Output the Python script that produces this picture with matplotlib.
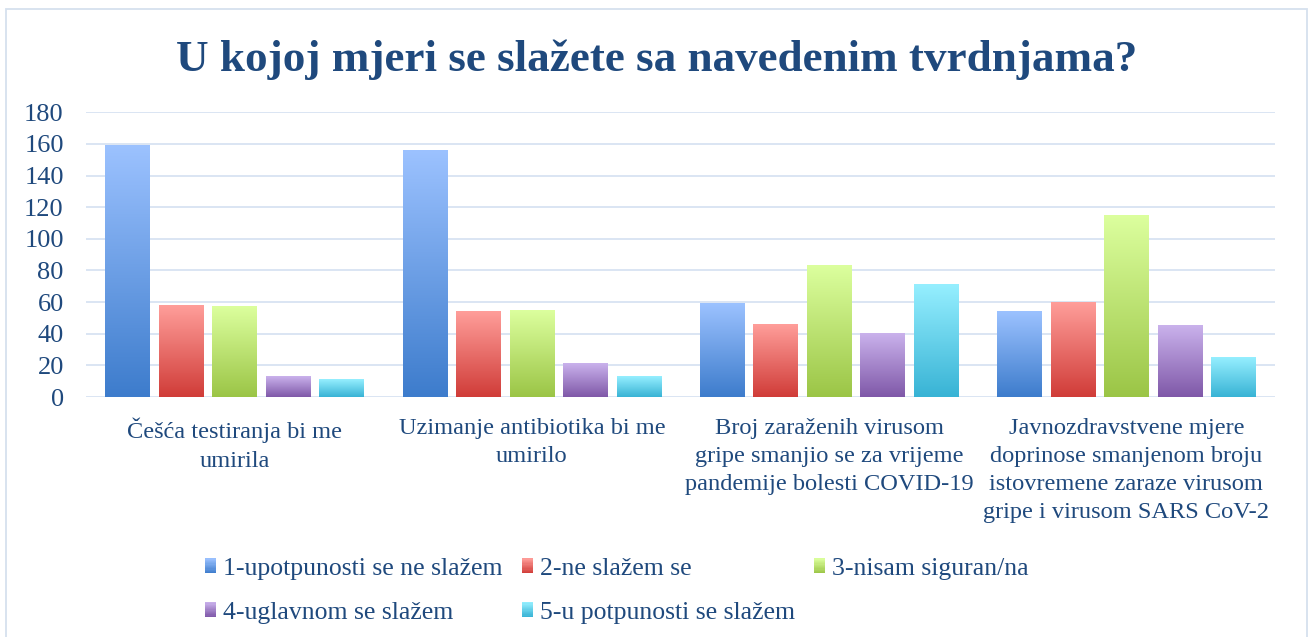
import numpy as np
import matplotlib
matplotlib.use("Agg")
import matplotlib.pyplot as plt
from matplotlib.colors import LinearSegmentedColormap, to_rgb
from matplotlib.legend_handler import HandlerBase
from matplotlib.patches import Rectangle

# ---------------- data ----------------
categories = [
    "Češća testiranja bi me\numirila",
    "Uzimanje antibiotika bi me\numirilo",
    "Broj zaraženih virusom\ngripe smanjio se za vrijeme\npandemije bolesti COVID-19",
    "Javnozdravstvene mjere\ndoprinose smanjenom broju\nistovremene zaraze virusom\ngripe i virusom SARS CoV-2",
]
series_labels = [
    "1-upotpunosti se ne slažem",
    "2-ne slažem se",
    "3-nisam siguran/na",
    "4-uglavnom se slažem",
    "5-u potpunosti se slažem",
]
s1 = [159, 156, 59, 54]
s2 = [58, 54, 46, 60]
s3 = [57, 55, 83, 115]
s4 = [13, 21, 40, 45]
s5 = [11, 13, 71, 25]
series_values = [s1, s2, s3, s4, s5]
yticks = [0, 20, 40, 60, 80, 100, 120, 140, 160, 180]
title = "U kojoj mjeri se slažete sa navedenim tvrdnjama?"

top_colors = ["#9CC2FF", "#FF9E9A", "#DCFF9E", "#CAB2EC", "#96EFFF"]
bottom_colors = ["#3D7CCC", "#D03C38", "#9BC546", "#7F58A8", "#38B3D5"]

text_color = "#1F497D"
grid_color = "#DAE5F3"
FONT = ["Liberation Serif", "DejaVu Serif"]

plt.rcParams["font.family"] = FONT

W, H = 1312, 637
fig = plt.figure(figsize=(W / 100, H / 100), dpi=100)
fig.patch.set_facecolor("white")

ax = fig.add_axes([86 / W, 1 - 397 / H, (1275 - 86) / W, (397 - 112.3) / H])

x = np.arange(len(categories))
bw = 0.15
step = 0.18
containers = []
for i, vals in enumerate(series_values):
    bc = ax.bar(x + (i - 2) * step, vals, width=bw, color=bottom_colors[i],
                edgecolor="none", zorder=2, label=series_labels[i])
    containers.append(bc)
    cmap = LinearSegmentedColormap.from_list(f"g{i}", [bottom_colors[i], top_colors[i]])
    grad = np.linspace(0, 1, 256).reshape(-1, 1)
    for rect in bc.patches:
        x0 = rect.get_x()
        w = rect.get_width()
        h = rect.get_height()
        ax.imshow(grad, extent=[x0, x0 + w, 0, h], origin="lower", aspect="auto",
                  cmap=cmap, interpolation="bilinear", zorder=3)

ax.set_xlim(-0.5, len(categories) - 0.5)
ax.set_ylim(0, 180)
ax.set_aspect("auto")
ax.set_yticks(yticks)
ax.set_yticklabels([str(t) for t in yticks])
ax.set_xticks(x)
ax.set_xticklabels(categories, linespacing=1.45)
ax.tick_params(axis="both", length=0, colors=text_color)
ax.tick_params(axis="y", pad=16, labelsize=19)
ax.tick_params(axis="x", pad=15, labelsize=17.6)
ax.yaxis.grid(True, color=grid_color, linewidth=1.4, zorder=0)
ax.set_axisbelow(True)
for sp in ax.spines.values():
    sp.set_visible(False)

# title
fig.text(0.5005, 1 - 60 / H, title, ha="center", va="center", fontsize=32.5,
         fontweight="bold", color=text_color)

# outer border
fig.add_artist(Rectangle((6 / W, -0.02), (1307 - 6) / W, (637 - 9) / H + 0.02,
                         transform=fig.transFigure, fill=False,
                         edgecolor="#D5E0EE", linewidth=1.3))


class GradientHandler(HandlerBase):
    def __init__(self, c_bot, c_top, n=12):
        super().__init__()
        self.c_bot = np.array(to_rgb(c_bot))
        self.c_top = np.array(to_rgb(c_top))
        self.n = n

    def create_artists(self, legend, orig_handle, xdescent, ydescent, width,
                       height, fontsize, trans):
        arts = []
        for k in range(self.n):
            f = (k + 0.5) / self.n
            col = self.c_bot * (1 - f) + self.c_top * f
            r = Rectangle((-xdescent, -ydescent + height * k / self.n), width,
                          height / self.n + 0.3, facecolor=col, edgecolor="none",
                          transform=trans)
            arts.append(r)
        return arts


order = [0, 3, 1, 4, 2]
handles = [containers[i] for i in order]
labels = [series_labels[i] for i in order]
hmap = {containers[i]: GradientHandler(bottom_colors[i], top_colors[i]) for i in range(5)}
leg = fig.legend(handles, labels, handler_map=hmap, loc="upper left",
                 bbox_to_anchor=(205 / W, 1 - 558 / H), ncol=3, frameon=False,
                 fontsize=18.5, handlelength=0.42, handleheight=0.5,
                 handletextpad=0.28, columnspacing=0.75, labelspacing=0.84,
                 borderpad=0, borderaxespad=0)
for t in leg.get_texts():
    t.set_color(text_color)

fig.savefig("out.png", dpi=100)
